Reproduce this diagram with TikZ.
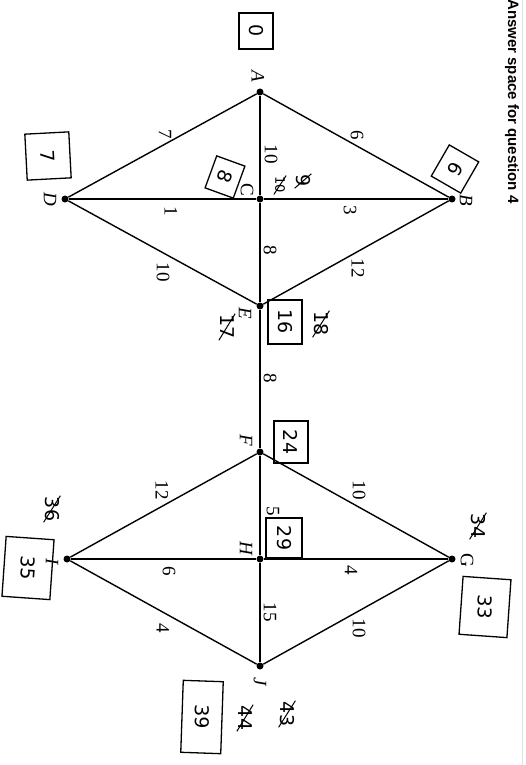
\documentclass[tikz,border=0pt]{standalone}
\usepackage{fontspec}
\setmainfont{Liberation Serif}
\newfontfamily\hand{DejaVu Sans}
\newfontfamily\headfont{Liberation Sans}
\begin{document}
\begin{tikzpicture}[x=1pt,y=-1pt,
  vtx/.style={circle,fill=black,inner sep=0pt,minimum size=7pt},
  edge/.style={line width=1.4pt},
  wt/.style={rotate=-90,font=\fontsize{19}{19}\selectfont,inner sep=1pt},
  vlab/.style={rotate=-90,font=\fontsize{19}{19}\selectfont\itshape,inner sep=1pt},
  hw/.style={rotate=-90,font=\hand\fontsize{19}{19}\selectfont,inner sep=1pt},
  hwbox/.style={hw,draw,line width=1.3pt,inner sep=3pt,minimum width=36pt,minimum height=34pt},
  strike/.style={line width=1pt}]
\useasboundingbox (0,0) rectangle (526,765);
\fill[white] (0,0) rectangle (526,765);
\draw[black!12,line width=1pt] (522,0) -- (522,765);
\node[rotate=-90,anchor=west,font=\headfont\bfseries\fontsize{15}{15}\selectfont,inner sep=0pt] (head) at (512,-1) {Answer space for question 4};

% vertices
\node[vtx] (A) at (260,92) {};
\node[vtx] (B) at (452,199) {};
\node[vtx] (C) at (260,199) {};
\node[vtx] (D) at (65,199) {};
\node[vtx] (E) at (260,306) {};
\node[vtx] (F) at (260,452) {};
\node[vtx] (G) at (452,559) {};
\node[vtx] (H) at (260,559) {};
\node[vtx] (I) at (67,559) {};
\node[vtx] (J) at (260,666) {};

% edges
\draw[edge] (A) -- (B);
\draw[edge] (A) -- (D);
\draw[edge] (A) -- (C);
\draw[edge] (D) -- (C);
\draw[edge] (C) -- (B);
\draw[edge] (C) -- (E);
\draw[edge] (D) -- (E);
\draw[edge] (B) -- (E);
\draw[edge] (E) -- (F);
\draw[edge] (F) -- (G);
\draw[edge] (F) -- (I);
\draw[edge] (F) -- (H);
\draw[edge] (I) -- (H);
\draw[edge] (H) -- (G);
\draw[edge] (H) -- (J);
\draw[edge] (I) -- (J);
\draw[edge] (G) -- (J);

% weights
\node[wt] (wAB) at (357,135) {6};
\node[wt] (wAD) at (165,134) {7};
\node[wt] (wAC) at (271,154) {10};
\node[wt] (wCB) at (350,210) {3};
\node[wt] (wDC) at (171,211) {1};
\node[wt] (wCE) at (270,250) {8};
\node[wt] (wBE) at (358,268) {12};
\node[wt] (wDE) at (163,272) {10};
\node[wt] (wEF) at (270,378) {8};
\node[wt] (wFG) at (359,490) {10};
\node[wt] (wFI) at (162,490) {12};
\node[wt] (wFH) at (273,511) {5};
\node[wt] (wHG) at (351,570) {4};
\node[wt] (wIH) at (169,571) {6};
\node[wt] (wHJ) at (270,612) {15};
\node[wt] (wGJ) at (359,628) {10};
\node[wt] (wIJ) at (163,628) {4};

% vertex labels
\node[vlab] (lA) at (258,76) {A};
\node[vlab] (lB) at (466,200) {B};
\node[rotate=-90,font=\fontsize{19}{19}\selectfont,inner sep=1pt] (lC) at (247,190) {C};
\node[vlab] (lD) at (50,199) {D};
\node[vlab] (lE) at (245,313) {E};
\node[vlab] (lF) at (246,440) {F};
\node[rotate=-90,font=\fontsize{19}{19}\selectfont,inner sep=1pt] (lG) at (467,560) {G};
\node[vlab] (lH) at (246,548) {H};
\node[vlab] (lI) at (52,562) {I};
\node[vlab] (lJ) at (260,682) {J};

% handwritten working
\node[hwbox] (bA) at (256,31) {0};
\node[hwbox,rotate=3,minimum width=46pt,minimum height=44pt] (bD) at (48,156) {7};
\node[hwbox,rotate=-30] (bB) at (455,169) {6};
\node[hwbox,rotate=-20,minimum width=34pt,minimum height=30pt] (bC) at (225,177) {8};
\node[hw,font=\hand\fontsize{13}{13}\selectfont] (xC1) at (280,185) {10};
\draw[strike] (xC1.north west) -- (xC1.south east);
\node[hw] (xC2) at (303,181) {9};
\draw[strike] (xC2.north west) -- (xC2.south east);
\node[hw] (xE1) at (227,327) {17};
\draw[strike] (xE1.north west) -- (xE1.south east);
\node[hwbox,minimum width=44pt,minimum height=34pt] (bE) at (285,322) {16};
\node[hw] (xE2) at (321,324) {18};
\draw[strike] (xE2.north west) -- (xE2.south east);
\node[hwbox,minimum width=42pt,minimum height=34pt] (bF) at (291,442) {24};
\node[hwbox,minimum width=40pt,minimum height=36pt] (bH) at (284,538) {29};
\node[hw] (xG) at (478,526) {34};
\draw[strike] (xG.north west) -- (xG.south east);
\node[hwbox,rotate=-4,minimum width=58pt,minimum height=48pt] (bG) at (485,607) {33};
\node[hw] (xI) at (52,509) {36};
\draw[strike] (xI.north west) -- (xI.south east);
\node[hwbox,rotate=-4,minimum width=60pt,minimum height=48pt] (bI) at (28,568) {35};
\node[hwbox,rotate=-2,minimum width=72pt,minimum height=40pt] (bJ) at (202,717) {39};
\node[hw] (xJ1) at (245,718) {44};
\draw[strike] (xJ1.north west) -- (xJ1.south east);
\node[hw] (xJ2) at (287,714) {43};
\draw[strike] (xJ2.north west) -- (xJ2.south east);
\end{tikzpicture}
\end{document}
